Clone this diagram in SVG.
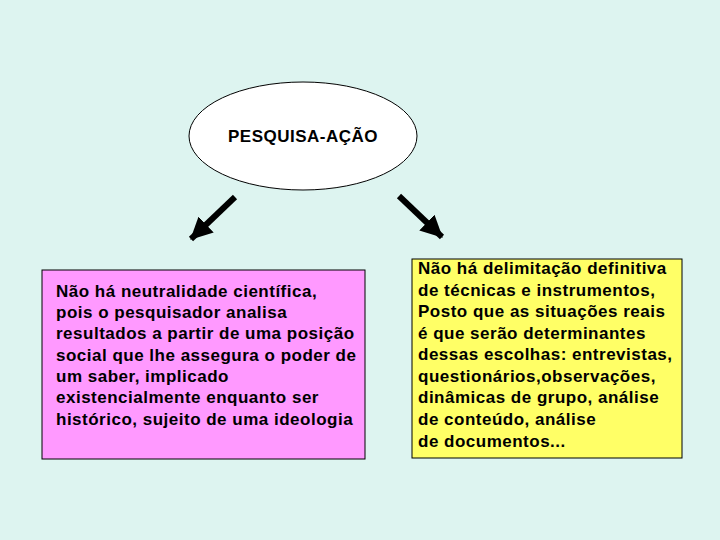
<svg xmlns="http://www.w3.org/2000/svg" width="720" height="540" viewBox="0 0 720 540">
<defs>
<style>
.t{font-family:"Liberation Sans",Arial,sans-serif;font-weight:bold;font-size:17px;letter-spacing:0.5px;fill:#000}
.box{stroke:#000;stroke-width:1}
.arr{stroke:#000;stroke-width:6;fill:none}
</style>
<marker id="ah" markerUnits="userSpaceOnUse" markerWidth="22" markerHeight="22" viewBox="0 0 20 20" refX="19" refY="10" orient="auto">
<path d="M0,0 L20,10 L0,20 Z" fill="#000"/>
</marker>
</defs>
<rect width="720" height="540" fill="#DDF4F0"/>
<g id="connectors">
<path class="arr" d="M235,197 L191,239" marker-end="url(#ah)"/>
<path class="arr" d="M399,196 L442,237" marker-end="url(#ah)"/>
</g>
<g id="root">
<ellipse cx="303" cy="136" rx="114" ry="54" fill="#fff" stroke="#000" stroke-width="1"/>
<text class="t" x="303" y="142" text-anchor="middle">PESQUISA-AÇÃO</text>
</g>
<g id="left">
<rect class="box" x="42" y="270" width="323" height="189" fill="#FF99FF"/>
<text class="t">
<tspan x="56" y="297">Não há neutralidade científica,</tspan>
<tspan x="56" y="318">pois o pesquisador analisa</tspan>
<tspan x="56" y="339">resultados a partir de uma posição</tspan>
<tspan x="56" y="361">social que lhe assegura o poder de</tspan>
<tspan x="56" y="382">um saber, implicado</tspan>
<tspan x="56" y="403">existencialmente enquanto ser</tspan>
<tspan x="56" y="425">histórico, sujeito de uma ideologia</tspan>
</text>
</g>
<g id="right">
<rect class="box" x="412" y="259" width="270" height="199" fill="#FFFF66"/>
<text class="t">
<tspan x="418" y="274">Não há delimitação definitiva</tspan>
<tspan x="418" y="296">de técnicas e instrumentos,</tspan>
<tspan x="418" y="317">Posto que as situações reais</tspan>
<tspan x="418" y="339">é que serão determinantes</tspan>
<tspan x="418" y="360">dessas escolhas: entrevistas,</tspan>
<tspan x="418" y="382">questionários,observações,</tspan>
<tspan x="418" y="403">dinâmicas de grupo, análise</tspan>
<tspan x="418" y="425">de conteúdo, análise</tspan>
<tspan x="418" y="447">de documentos...</tspan>
</text>
</g>
</svg>
